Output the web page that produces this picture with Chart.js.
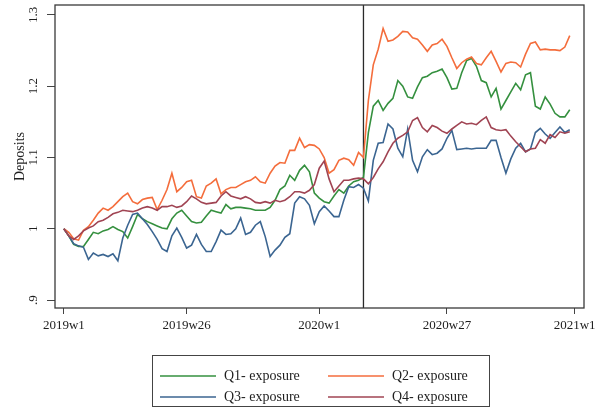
<!DOCTYPE html>
<html>
<head>
<meta charset="utf-8">
<script src="https://cdn.jsdelivr.net/npm/chart.js@4"></script>
<style>
    html, body { margin: 0; padding: 0; background: #ffffff; }
</style>
</head>
<body>
<canvas id="graficoDepositos" width="599" height="408"></canvas>
<script>
// semanas: indice 0 = 2019w1 ... 103 = 2020w52
const ticksX = [0, 25, 52, 78, 104];
const etiquetasX = ['2019w1', '2019w26', '2020w1', '2020w27', '2021w1'];
const ticksY = [0.9, 1.0, 1.1, 1.2, 1.3];
const etiquetasY = ['.9', '1', '1.1', '1.2', '1.3'];
const semanaEvento = 61; // 2020w10

const nombres = ['Q1- exposure', 'Q2- exposure', 'Q3- exposure', 'Q4- exposure'];
const colores = ['#35903f', '#f46d3c', '#3b6591', '#a04453'];

const q1 = [
    1.000, 0.990, 0.978, 0.975, 0.975, 0.985, 0.995, 0.993, 0.997, 0.999,
    1.003, 0.999, 0.996, 0.987, 1.003, 1.020, 1.014, 1.010, 1.007, 1.004,
    1.001, 1.000, 1.014, 1.022, 1.026, 1.018, 1.010, 1.008, 1.009, 1.018,
    1.026, 1.024, 1.022, 1.034, 1.028, 1.030, 1.030, 1.029, 1.028, 1.026,
    1.026, 1.026, 1.030, 1.040, 1.055, 1.060, 1.075, 1.068, 1.082, 1.089,
    1.080, 1.050, 1.043, 1.038, 1.036, 1.046, 1.055, 1.050, 1.060, 1.066,
    1.068, 1.072, 1.135, 1.172, 1.180, 1.166, 1.176, 1.183, 1.208, 1.200,
    1.185, 1.183, 1.199, 1.212, 1.214, 1.219, 1.221, 1.224, 1.212, 1.196,
    1.197, 1.219, 1.236, 1.239, 1.228, 1.208, 1.205, 1.185, 1.197, 1.168,
    1.180, 1.192, 1.204, 1.195, 1.216, 1.219, 1.172, 1.168, 1.185, 1.175,
    1.162, 1.157, 1.157, 1.167
];
const q2 = [
    1.000, 0.995, 0.986, 0.984, 0.998, 1.003, 1.012, 1.022, 1.029, 1.026,
    1.031, 1.038, 1.045, 1.050, 1.038, 1.035, 1.041, 1.043, 1.044, 1.027,
    1.040, 1.055, 1.078, 1.052, 1.058, 1.066, 1.068, 1.045, 1.043, 1.060,
    1.064, 1.070, 1.049, 1.055, 1.058, 1.058, 1.062, 1.066, 1.068, 1.073,
    1.066, 1.064, 1.078, 1.088, 1.093, 1.092, 1.110, 1.110, 1.127, 1.114,
    1.118, 1.117, 1.112, 1.100, 1.078, 1.083, 1.096, 1.099, 1.097, 1.089,
    1.107, 1.100, 1.180, 1.230, 1.252, 1.281, 1.263, 1.265, 1.270, 1.277,
    1.276, 1.268, 1.266, 1.258, 1.249, 1.258, 1.260, 1.266, 1.256, 1.240,
    1.225, 1.233, 1.238, 1.241, 1.232, 1.230, 1.240, 1.249, 1.235, 1.220,
    1.232, 1.234, 1.233, 1.227, 1.245, 1.260, 1.262, 1.251, 1.252, 1.251,
    1.251, 1.250, 1.255, 1.271
];
const q3 = [
    1.000, 0.990, 0.979, 0.976, 0.974, 0.957, 0.966, 0.962, 0.964, 0.961,
    0.965, 0.955, 0.987, 1.005, 1.020, 1.022, 1.014, 1.006, 0.996, 0.985,
    0.972, 0.968, 0.990, 1.001, 0.988, 0.973, 0.977, 0.992, 0.978, 0.968,
    0.968, 0.982, 0.998, 0.992, 0.993, 1.000, 1.015, 0.992, 0.995, 1.005,
    1.010, 0.989, 0.961, 0.970, 0.977, 0.988, 0.993, 1.036, 1.045, 1.042,
    1.033, 1.007, 1.024, 1.032, 1.025, 1.017, 1.017, 1.040, 1.059, 1.058,
    1.062, 1.057, 1.039, 1.096, 1.120, 1.121, 1.147, 1.140, 1.113, 1.101,
    1.140, 1.096, 1.080, 1.101, 1.111, 1.104, 1.106, 1.112, 1.127, 1.138,
    1.111, 1.112, 1.113, 1.112, 1.113, 1.113, 1.113, 1.124, 1.124, 1.100,
    1.078, 1.098, 1.113, 1.120, 1.108, 1.112, 1.135, 1.141, 1.133, 1.127,
    1.135, 1.143, 1.135, 1.139
];
const q4 = [
    1.000, 0.990, 0.985, 0.990, 0.997, 1.001, 1.004, 1.010, 1.012, 1.016,
    1.021, 1.023, 1.026, 1.025, 1.024, 1.026, 1.029, 1.031, 1.029, 1.026,
    1.031, 1.031, 1.033, 1.030, 1.032, 1.038, 1.046, 1.042, 1.037, 1.035,
    1.036, 1.037, 1.046, 1.052, 1.046, 1.044, 1.042, 1.045, 1.042, 1.037,
    1.036, 1.038, 1.036, 1.040, 1.038, 1.040, 1.045, 1.052, 1.052, 1.050,
    1.054, 1.062, 1.085, 1.095, 1.070, 1.052, 1.060, 1.068, 1.068, 1.070,
    1.071, 1.070, 1.063, 1.072, 1.084, 1.094, 1.108, 1.120, 1.127, 1.131,
    1.136, 1.152, 1.156, 1.142, 1.136, 1.145, 1.142, 1.137, 1.134, 1.140,
    1.145, 1.150, 1.147, 1.148, 1.146, 1.152, 1.157, 1.142, 1.139, 1.138,
    1.139, 1.130, 1.122, 1.115, 1.108, 1.112, 1.113, 1.125, 1.120, 1.132,
    1.128, 1.136, 1.134, 1.136
];

const series = [q1, q2, q3, q4];
const fuente = 'Liberation Serif';
const colorTexto = '#1e1e1e';

Chart.defaults.font.family = fuente;

// linea del evento, marco del area, etiquetas verticales del eje y y leyenda
const extras = {
    id: 'extras',
    beforeDatasetsDraw(chart) {
        const { ctx, chartArea, scales } = chart;
        const x = scales.x.getPixelForValue(semanaEvento);
        ctx.save();
        ctx.strokeStyle = '#2a2a2a';
        ctx.lineWidth = 1.3;
        ctx.beginPath();
        ctx.moveTo(x, chartArea.top);
        ctx.lineTo(x, chartArea.bottom);
        ctx.stroke();
        ctx.restore();
    },
    afterDraw(chart) {
        const { ctx, chartArea, scales } = chart;
        ctx.save();

        ctx.strokeStyle = '#3a3a3a';
        ctx.lineWidth = 1.3;
        ctx.strokeRect(chartArea.left, chartArea.top,
            chartArea.right - chartArea.left, chartArea.bottom - chartArea.top);

        ctx.fillStyle = colorTexto;
        ctx.font = '13px "' + fuente + '"';
        ctx.textAlign = 'center';
        ctx.textBaseline = 'middle';
        ticksY.forEach((v, i) => {
            const y = scales.y.getPixelForValue(v);
            ctx.save();
            ctx.translate(34, y);
            ctx.rotate(-Math.PI / 2);
            ctx.fillText(etiquetasY[i], 0, 0);
            ctx.restore();
        });

        // leyenda en dos columnas
        const caja = { x: 152, y: 355, w: 337, h: 51 };
        ctx.strokeStyle = '#444444';
        ctx.lineWidth = 1;
        ctx.strokeRect(caja.x + 0.5, caja.y + 0.5, caja.w, caja.h);
        const colX = [160, 328];
        const filaY = [376, 397];
        ctx.font = '14px "' + fuente + '"';
        ctx.textAlign = 'left';
        chart.data.datasets.forEach((ds, k) => {
            const cx = colX[k % 2];
            const cy = filaY[Math.floor(k / 2)];
            ctx.strokeStyle = ds.borderColor;
            ctx.lineWidth = 1.6;
            ctx.beginPath();
            ctx.moveTo(cx, cy);
            ctx.lineTo(cx + 56, cy);
            ctx.stroke();
            ctx.fillStyle = colorTexto;
            ctx.fillText(ds.label, cx + 64, cy);
        });
        ctx.restore();
    }
};

const grafico = new Chart(document.getElementById('graficoDepositos').getContext('2d'), {
    type: 'line',
    data: {
        datasets: series.map((s, k) => ({
            label: nombres[k],
            data: s.map((v, i) => ({ x: i, y: v })),
            borderColor: colores[k],
            backgroundColor: colores[k],
            borderWidth: 1.6,
            pointRadius: 0,
            tension: 0,
            fill: false,
            order: 4 - k
        }))
    },
    options: {
        responsive: false,
        animation: false,
        devicePixelRatio: 1,
        layout: { padding: { left: 0, right: 15, top: 5, bottom: 70 } },
        plugins: {
            legend: { display: false },
            tooltip: { enabled: false }
        },
        scales: {
            x: {
                type: 'linear',
                min: -1.8,
                max: 105.9,
                afterBuildTicks: s => { s.ticks = ticksX.map(v => ({ value: v })); },
                afterFit: s => { s.height = 30; s.paddingLeft = 0; s.paddingRight = 0; },
                ticks: {
                    autoSkip: false,
                    maxRotation: 0,
                    padding: 4,
                    color: colorTexto,
                    font: { size: 13 },
                    callback: (v, i) => etiquetasX[i]
                },
                grid: { drawOnChartArea: false, drawTicks: true, tickLength: 6, color: '#444444' },
                border: { display: false }
            },
            y: {
                min: 0.8888,
                max: 1.314,
                afterBuildTicks: s => { s.ticks = ticksY.map(v => ({ value: v })); },
                afterFit: s => { s.width = 55; s.paddingTop = 0; s.paddingBottom = 0; },
                ticks: { display: false },
                grid: { drawOnChartArea: false, drawTicks: true, tickLength: 8, color: '#444444' },
                border: { display: false },
                title: {
                    display: true,
                    text: 'Deposits',
                    color: colorTexto,
                    font: { size: 14 },
                    padding: { top: 12, bottom: 0 }
                }
            }
        }
    },
    plugins: [extras]
});
</script>
</body>
</html>
